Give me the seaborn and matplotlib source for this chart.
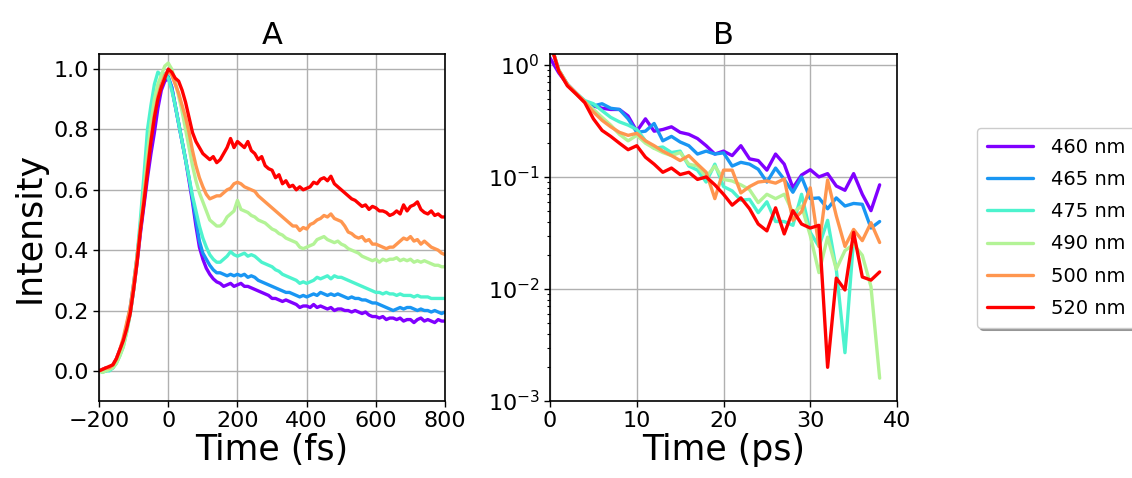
import numpy as np
import pandas as pd
import matplotlib
matplotlib.use("Agg")
import matplotlib.pyplot as plt
import seaborn as sns

# ---- data ----
labels = ["460 nm", "465 nm", "475 nm", "490 nm", "500 nm", "520 nm"]

# panel A: femtosecond traces, one value every 10 fs from -200 to 800
time_fs = np.arange(-200, 801, 10)

int_460 = [
    0.00, 0.005, 0.01, 0.01, 0.02, 0.04, 0.07, 0.10, 0.14, 0.19,
    0.27, 0.36, 0.46, 0.55, 0.64, 0.72, 0.79, 0.87, 0.93, 0.96,
    0.97, 0.94, 0.88, 0.82, 0.76, 0.70, 0.63, 0.56, 0.48, 0.41,
    0.37, 0.34, 0.32, 0.305, 0.295, 0.29, 0.28, 0.285, 0.29, 0.28,
    0.285, 0.29, 0.28, 0.28, 0.275, 0.27, 0.265, 0.26, 0.255, 0.25,
    0.24, 0.24, 0.235, 0.23, 0.235, 0.23, 0.225, 0.22, 0.21, 0.215,
    0.215, 0.21, 0.22, 0.21, 0.215, 0.21, 0.205, 0.21, 0.20, 0.205,
    0.205, 0.20, 0.20, 0.195, 0.20, 0.195, 0.19, 0.195, 0.185, 0.18,
    0.18, 0.175, 0.18, 0.17, 0.175, 0.175, 0.17, 0.175, 0.165, 0.17,
    0.17, 0.16, 0.17, 0.175, 0.165, 0.17, 0.165, 0.16, 0.17, 0.165,
    0.165]
int_465 = [
    0.00, 0.00, 0.00, 0.005, 0.01, 0.03, 0.06, 0.10, 0.15, 0.21,
    0.29, 0.38, 0.48, 0.59, 0.69, 0.78, 0.86, 0.91, 0.95, 0.97,
    0.975, 0.94, 0.88, 0.82, 0.76, 0.70, 0.64, 0.57, 0.50, 0.43,
    0.39, 0.37, 0.35, 0.335, 0.325, 0.325, 0.32, 0.315, 0.32, 0.315,
    0.32, 0.315, 0.32, 0.31, 0.315, 0.31, 0.30, 0.295, 0.29, 0.285,
    0.28, 0.275, 0.27, 0.265, 0.26, 0.26, 0.255, 0.25, 0.245, 0.25,
    0.245, 0.25, 0.255, 0.25, 0.26, 0.255, 0.25, 0.255, 0.25, 0.255,
    0.25, 0.245, 0.24, 0.245, 0.24, 0.24, 0.235, 0.235, 0.23, 0.225,
    0.225, 0.22, 0.215, 0.21, 0.205, 0.20, 0.205, 0.21, 0.205, 0.21,
    0.21, 0.205, 0.20, 0.205, 0.20, 0.20, 0.195, 0.20, 0.195, 0.19,
    0.195]
int_475 = [
    0.00, -0.005, 0.00, 0.00, 0.01, 0.025, 0.05, 0.08, 0.13, 0.19,
    0.27, 0.38, 0.51, 0.65, 0.80, 0.88, 0.95, 0.99, 0.98, 0.985,
    0.97, 0.93, 0.88, 0.82, 0.76, 0.70, 0.64, 0.58, 0.53, 0.48,
    0.44, 0.41, 0.385, 0.37, 0.36, 0.36, 0.37, 0.38, 0.395, 0.385,
    0.38, 0.385, 0.39, 0.38, 0.385, 0.38, 0.37, 0.36, 0.355, 0.35,
    0.345, 0.335, 0.33, 0.32, 0.315, 0.31, 0.305, 0.30, 0.29, 0.295,
    0.29, 0.295, 0.30, 0.31, 0.305, 0.31, 0.315, 0.305, 0.315, 0.31,
    0.31, 0.305, 0.30, 0.295, 0.29, 0.285, 0.28, 0.275, 0.27, 0.265,
    0.26, 0.26, 0.255, 0.26, 0.255, 0.255, 0.25, 0.255, 0.25, 0.25,
    0.25, 0.245, 0.25, 0.245, 0.245, 0.245, 0.24, 0.24, 0.24, 0.24,
    0.24]
int_490 = [
    0.00, -0.005, 0.00, 0.005, 0.01, 0.025, 0.05, 0.08, 0.13, 0.19,
    0.27, 0.37, 0.48, 0.60, 0.72, 0.82, 0.90, 0.95, 0.98, 1.01,
    1.02, 1.00, 0.96, 0.91, 0.86, 0.80, 0.74, 0.68, 0.63, 0.59,
    0.56, 0.53, 0.50, 0.49, 0.48, 0.48, 0.49, 0.51, 0.52, 0.53,
    0.565, 0.535, 0.53, 0.525, 0.515, 0.51, 0.50, 0.495, 0.49, 0.48,
    0.47, 0.465, 0.455, 0.45, 0.44, 0.435, 0.43, 0.425, 0.41, 0.405,
    0.41, 0.415, 0.42, 0.435, 0.44, 0.445, 0.435, 0.43, 0.425, 0.43,
    0.42, 0.415, 0.405, 0.40, 0.395, 0.39, 0.38, 0.375, 0.37, 0.365,
    0.37, 0.36, 0.37, 0.365, 0.37, 0.37, 0.375, 0.365, 0.37, 0.365,
    0.37, 0.36, 0.365, 0.36, 0.365, 0.36, 0.355, 0.35, 0.35, 0.345,
    0.345]
int_500 = [
    0.00, 0.005, 0.01, 0.01, 0.02, 0.04, 0.07, 0.11, 0.16, 0.21,
    0.29, 0.38, 0.48, 0.58, 0.68, 0.77, 0.85, 0.91, 0.95, 0.98,
    0.995, 0.98, 0.95, 0.92, 0.88, 0.84, 0.79, 0.73, 0.68, 0.64,
    0.61, 0.585, 0.57, 0.575, 0.58, 0.58, 0.59, 0.60, 0.605, 0.62,
    0.625, 0.62, 0.61, 0.605, 0.60, 0.595, 0.58, 0.57, 0.56, 0.55,
    0.54, 0.53, 0.52, 0.51, 0.50, 0.49, 0.48, 0.48, 0.465, 0.475,
    0.47, 0.485, 0.49, 0.50, 0.505, 0.515, 0.51, 0.52, 0.505, 0.50,
    0.495, 0.48, 0.46, 0.455, 0.445, 0.44, 0.445, 0.43, 0.435, 0.42,
    0.42, 0.415, 0.41, 0.405, 0.41, 0.41, 0.42, 0.43, 0.44, 0.435,
    0.445, 0.43, 0.435, 0.42, 0.43, 0.42, 0.41, 0.405, 0.40, 0.39,
    0.385]
int_520 = [
    0.00, 0.005, 0.01, 0.015, 0.02, 0.04, 0.07, 0.10, 0.14, 0.19,
    0.27, 0.36, 0.47, 0.56, 0.66, 0.76, 0.84, 0.90, 0.94, 0.97,
    1.00, 0.99, 0.97, 0.96, 0.93, 0.89, 0.84, 0.79, 0.76, 0.74,
    0.72, 0.71, 0.70, 0.71, 0.69, 0.70, 0.72, 0.74, 0.77, 0.74,
    0.76, 0.75, 0.74, 0.76, 0.73, 0.72, 0.70, 0.71, 0.68, 0.67,
    0.665, 0.64, 0.65, 0.62, 0.63, 0.61, 0.615, 0.60, 0.61, 0.60,
    0.605, 0.61, 0.625, 0.62, 0.635, 0.64, 0.63, 0.645, 0.62, 0.61,
    0.60, 0.59, 0.58, 0.57, 0.565, 0.555, 0.545, 0.55, 0.535, 0.545,
    0.54, 0.53, 0.53, 0.525, 0.515, 0.52, 0.53, 0.52, 0.55, 0.53,
    0.545, 0.55, 0.56, 0.535, 0.525, 0.52, 0.53, 0.515, 0.52, 0.51,
    0.51]

# panel B: picosecond decays, one value per ps from 0 to 38
time_ps = np.arange(0, 39)

dec_460 = [1.15, 0.85, 0.67, 0.56, 0.47, 0.43, 0.41, 0.40, 0.40, 0.35,
           0.256, 0.33, 0.256, 0.265, 0.28, 0.25, 0.24, 0.22, 0.19, 0.16,
           0.17, 0.155, 0.19, 0.145, 0.14, 0.115, 0.16, 0.13, 0.08, 0.104,
           0.116, 0.10, 0.107, 0.083, 0.076, 0.107, 0.07, 0.05, 0.085]
dec_465 = [1.6, 0.9, 0.67, 0.56, 0.47, 0.43, 0.45, 0.41, 0.40, 0.33,
           0.25, 0.256, 0.30, 0.21, 0.23, 0.205, 0.19, 0.16, 0.17, 0.16,
           0.164, 0.125, 0.135, 0.13, 0.117, 0.09, 0.12, 0.095, 0.073, 0.10,
           0.064, 0.065, 0.052, 0.065, 0.055, 0.058, 0.057, 0.035, 0.04]
dec_475 = [1.6, 0.9, 0.67, 0.56, 0.48, 0.45, 0.39, 0.34, 0.31, 0.29,
           0.265, 0.21, 0.18, 0.185, 0.165, 0.17, 0.125, 0.115, 0.09, 0.13,
           0.082, 0.075, 0.062, 0.063, 0.048, 0.06, 0.04, 0.04, 0.037, 0.07,
           0.032, 0.024, 0.041, 0.015, 0.0027, 0.028, np.nan, np.nan, np.nan]
dec_490 = [1.6, 0.9, 0.66, 0.55, 0.47, 0.40, 0.34, 0.29, 0.24, 0.21,
           0.235, 0.20, 0.18, 0.165, 0.155, 0.165, 0.13, 0.125, 0.10, 0.125,
           0.095, 0.092, 0.085, 0.077, 0.059, 0.07, 0.064, 0.07, 0.048, 0.055,
           0.03, 0.014, 0.029, 0.015, 0.022, 0.025, 0.02, 0.0105, 0.0016]
dec_500 = [1.6, 0.9, 0.67, 0.56, 0.47, 0.38, 0.32, 0.28, 0.25, 0.235,
           0.245, 0.21, 0.19, 0.17, 0.155, 0.14, 0.155, 0.13, 0.11, 0.064,
           0.115, 0.115, 0.072, 0.082, 0.09, 0.092, 0.088, 0.096, 0.041, 0.049,
           0.08, 0.024, 0.094, 0.045, 0.024, 0.034, 0.027, 0.039, 0.026]
dec_520 = [1.6, 0.88, 0.65, 0.55, 0.46, 0.33, 0.26, 0.23, 0.20, 0.175,
           0.19, 0.15, 0.13, 0.11, 0.12, 0.105, 0.11, 0.095, 0.10, 0.085,
           0.07, 0.056, 0.065, 0.052, 0.038, 0.033, 0.053, 0.031, 0.05, 0.038,
           0.035, 0.037, 0.002, 0.0125, 0.0098, 0.032, 0.0128, 0.012, 0.0142]

fs_series = [int_460, int_465, int_475, int_490, int_500, int_520]
ps_series = [dec_460, dec_465, dec_475, dec_490, dec_500, dec_520]

df_a = pd.concat([pd.DataFrame({"t": time_fs, "I": v, "wl": lab})
                  for v, lab in zip(fs_series, labels)], ignore_index=True)
df_b = pd.concat([pd.DataFrame({"t": time_ps, "I": v, "wl": lab})
                  for v, lab in zip(ps_series, labels)], ignore_index=True)
df_b = df_b.dropna()

# ---- style ----
sns.set_theme(style="ticks", rc={
    "axes.edgecolor": "black", "axes.linewidth": 1.2,
    "text.color": "black", "axes.labelcolor": "black",
    "xtick.color": "black", "ytick.color": "black",
    "xtick.major.size": 4, "ytick.major.size": 4,
    "xtick.minor.size": 2.5, "ytick.minor.size": 2.5,
    "xtick.major.width": 1.0, "ytick.major.width": 1.0,
    "ytick.minor.width": 0.8,
})
plt.rcParams["font.family"] = ["DejaVu Sans"]

# full rainbow colormap, purple to red
palette = [plt.cm.rainbow(x) for x in np.linspace(0, 1, 6)]

fig = plt.figure(figsize=(11.32, 4.78), dpi=100)
ax1 = fig.add_axes([0.0875, 0.161, 0.3057, 0.726])
ax2 = fig.add_axes([0.4859, 0.161, 0.3065, 0.726])

sns.lineplot(data=df_a, x="t", y="I", hue="wl", palette=palette,
             linewidth=2.4, estimator=None, sort=False, legend=False, ax=ax1)
sns.lineplot(data=df_b, x="t", y="I", hue="wl", palette=palette,
             linewidth=2.4, estimator=None, sort=False, ax=ax2)

# panel A
ax1.set_xlim(-200, 800)
ax1.set_ylim(-0.1, 1.05)
ax1.set_yticks([0.0, 0.2, 0.4, 0.6, 0.8, 1.0])
ax1.set_xticks([-200, 0, 200, 400, 600, 800])
ax1.set_title("A", fontsize=22, pad=7)
ax1.set_xlabel("Time (fs)", fontsize=25, labelpad=1)
ax1.set_ylabel("Intensity", fontsize=25, labelpad=5)

# panel B
ax2.set_yscale("log")
ax2.set_xlim(0, 40)
ax2.set_ylim(1e-3, 1.25)
ax2.set_xticks([0, 10, 20, 30, 40])
ax2.set_title("B", fontsize=22, pad=7)
ax2.set_xlabel("Time (ps)", fontsize=25, labelpad=1)
ax2.set_ylabel("")

for ax in (ax1, ax2):
    ax.grid(True, which="major", color="#b0b0b0", linewidth=1.0)
    ax.tick_params(labelsize=16)
    for s in ax.spines.values():
        s.set_visible(True)

handles, labs = ax2.get_legend_handles_labels()
ax2.get_legend().remove()
fig.legend(handles, labs, loc="upper left",
           bbox_to_anchor=(977 / 1132, 1 - 128 / 478), borderaxespad=0,
           fontsize=14, frameon=True, shadow=True, fancybox=True,
           framealpha=1, edgecolor="#cccccc", handlelength=2.4,
           handletextpad=0.9, labelspacing=0.68, borderpad=0.5)

fig.savefig("out.png", dpi=100)
